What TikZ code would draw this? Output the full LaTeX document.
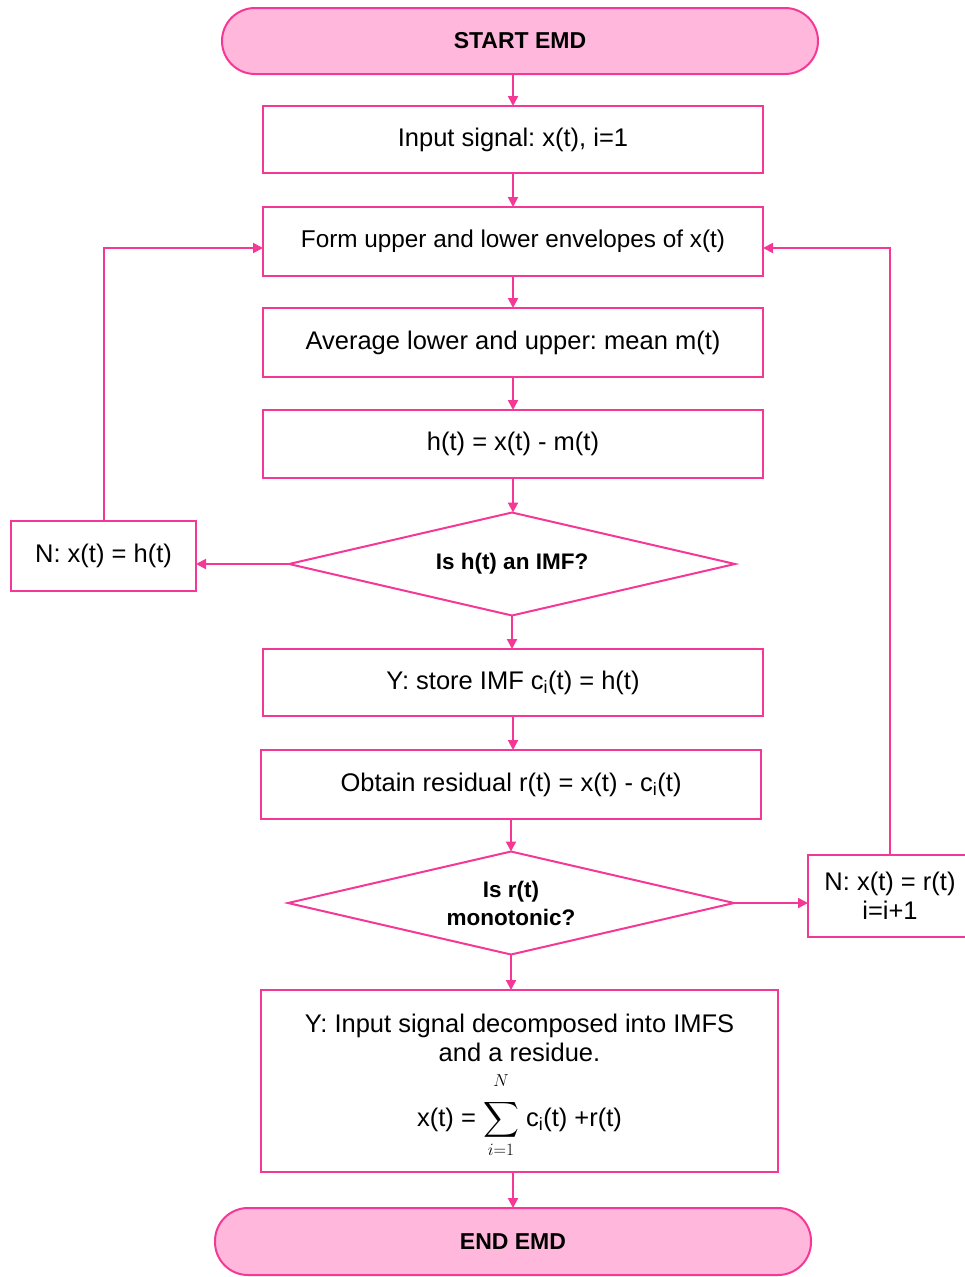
\documentclass[tikz,border=0pt]{standalone}
\usepackage{fontspec}
\setmainfont{Liberation Sans}
\usepackage{amsmath}
\usetikzlibrary{shapes.geometric,arrows.meta}
\definecolor{pk}{RGB}{245,55,150}
\definecolor{pkfill}{RGB}{255,184,220}
\tikzset{
  base/.style={draw=pk, line width=2pt, inner sep=0pt, outer sep=0pt, align=center, font=\frenchspacing\fontsize{25.5}{29}\selectfont},
  procbox/.style={base, rectangle, fill=white},
  termbox/.style={base, rounded corners=33pt, fill=pkfill, font=\bfseries\fontsize{23}{28}\selectfont},
  decbox/.style={base, diamond, aspect=4.33, font=\bfseries\fontsize{22.5}{28}\selectfont},
  conn/.style={draw=pk, line width=2pt, -{Triangle[length=10pt,width=10pt]}}
}
\begin{document}
\frenchspacing
\begin{tikzpicture}[x=1pt,y=-1pt]
\useasboundingbox (0,0) rectangle (965,1277);
\node[termbox, minimum width=596, minimum height=66] (start) at (520,41) {START EMD};
\node[procbox, minimum width=500, minimum height=67] (input) at (513,139.5) {Input signal: x(t), i=1};
\node[procbox, minimum width=500, minimum height=69, font=\frenchspacing\fontsize{24.3}{28}\selectfont] (form) at (513,241.5) {Form upper and lower envelopes of x(t)};
\node[procbox, minimum width=500, minimum height=69] (avg) at (513,342.5) {Average lower and upper: mean m(t)};
\node[procbox, minimum width=500, minimum height=68] (hdef) at (513,444) {h(t) = x(t) - m(t)};
\node[decbox, minimum width=446, minimum height=103] (d1) at (512,564) {Is h(t) an IMF?};
\node[procbox, minimum width=185, minimum height=70] (nl) at (103.5,556) {N: x(t) = h(t)};
\node[procbox, minimum width=500, minimum height=67] (store) at (513,682.5) {Y: store IMF c\textsubscript{i}(t) = h(t)};
\node[procbox, minimum width=500, minimum height=69] (resid) at (511,784.5) {Obtain residual r(t) = x(t) - c\textsubscript{i}(t)};
\node[decbox, minimum width=446, minimum height=103] (d2) at (511,903) {Is r(t)\\monotonic?};
\node[procbox, minimum width=164, minimum height=82] (nr) at (890,896) {N: x(t) = r(t)\\i=i+1};
\node[procbox, minimum width=517, minimum height=182] (fin) at (519.5,1081) {\rule{0pt}{29pt}Y: Input signal decomposed into IMFS\\and a residue.\\[9pt]
  x(t) = $\displaystyle\sum_{\rule{0pt}{12pt}i=1}^{N\rule[-11pt]{0pt}{11pt}}$ c\textsubscript{i}(t) +r(t)};
\node[termbox, minimum width=596, minimum height=67] (end) at (513,1241.5) {END EMD};

\draw[conn] (start.south -| input.north) -- (input.north);
\draw[conn] (input) -- (form);
\draw[conn] (form) -- (avg);
\draw[conn] (avg) -- (hdef);
\draw[conn] (hdef.south) -- (hdef.south |- d1.north);
\draw[conn] (d1.south) -- (d1.south |- store.north);
\draw[conn] (store.south) -- (store.south |- resid.north);
\draw[conn] (resid) -- (d2);
\draw[conn] (d2.south) -- (d2.south |- fin.north);
\draw[conn] (end.north |- fin.south) -- (end.north);
\draw[conn] (d1.west) -- (d1.west -| nl.east);
\draw[conn] (d2.east) -- (d2.east -| nr.west);
\draw[conn] (nl.north) |- ([yshift=-6.5pt]form.west);
\draw[conn] (nr.north) |- ([yshift=-6.5pt]form.east);
\end{tikzpicture}
\end{document}
